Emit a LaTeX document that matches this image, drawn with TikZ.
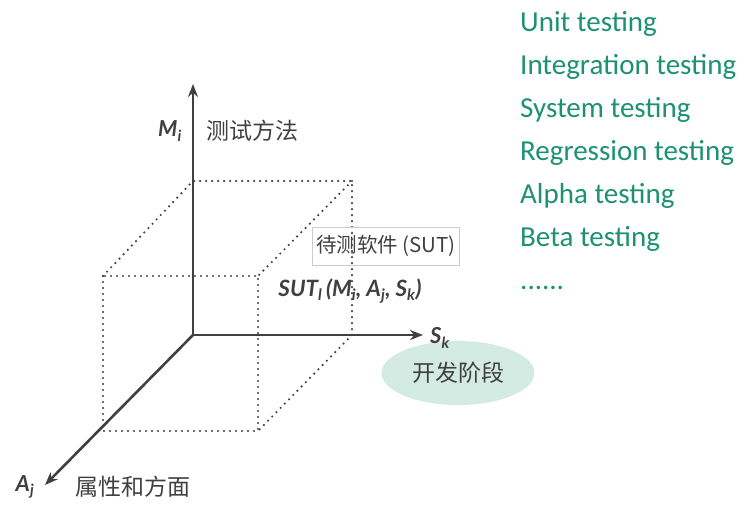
\documentclass[tikz,border=0pt]{standalone}
\usepackage{fontspec}
\setmainfont{Lato}
\newfontfamily\cjk{Noto Sans CJK SC}
\newfontfamily\listfont{Carlito}
\usetikzlibrary{arrows.meta,positioning,shapes.geometric}
\definecolor{ink}{RGB}{64,64,64}
\definecolor{leaf}{RGB}{28,146,112}
\definecolor{mist}{RGB}{211,235,227}

\newcommand{\axlab}[2]{{\bfseries\itshape #1\textsubscript{#2}}}

\begin{document}
\begin{tikzpicture}[x=1pt,y=-1pt,font=\cjk\fontsize{23}{27}\selectfont,
  axis/.style={ink,line width=2.6pt,-{Stealth[length=13pt,width=10pt]}},
  cube/.style={ink,line width=2.4pt,line cap=round,dash pattern=on 0pt off 6pt},
  lab/.style={ink,inner sep=0pt,font=\fontsize{22}{26}\selectfont},
  item/.style={leaf,anchor=base west,inner sep=0pt,font=\listfont\fontsize{29}{34}\selectfont}]
\useasboundingbox (0,0) rectangle (747,511);
% dotted box
\draw[cube] (103,276) -- (193,181) -- (352,181) -- (352,335);
\draw[cube] (352,181) -- (258,276);
\draw[cube] (352,335) -- (258,431);
\draw[cube] (103,276) rectangle (258,431);
% axes
\coordinate (O) at (193,335);
\coordinate (Mtip) at (193,84);
\coordinate (Stip) at (423,335);
\coordinate (Atip) at (45,485);
\draw[axis] (O) -- (Mtip);
\draw[axis] (O) -- (Stip);
\draw[axis] (O) -- (Atip);
% axis labels
\node[ink,ellipse,fill=mist,minimum width=153pt,minimum height=64pt,inner sep=0pt] (phase) at (458,373) {开发阶段};
\node[lab] (Mlab) at (170,131) {\axlab{M}{i}};
\node[ink] (Mtxt) at (252,131) {测试方法};
\node[lab] (Slab) at (440,338) {\axlab{S}{k}};
\node[lab] (Alab) at (25,487) {\axlab{A}{j}};
\node[ink] (Atxt) at (133,487) {属性和方面};
% software under test
\node[ink,draw=gray!40,line width=0.8pt,minimum height=38pt,inner xsep=4pt,font=\cjk\fontsize{20.5}{24}\selectfont] (sut) at (386,246) {待测软件 (SUT)};
\node[lab,font=\fontsize{22.5}{26}\selectfont] (sutl) at (350,291) {\axlab{SUT}{l}\,\bfseries\itshape(M\textsubscript{i}, A\textsubscript{j}, S\textsubscript{k})};
% kinds of testing
\foreach \t [count=\i] in {Unit testing,Integration testing,System testing,Regression testing,Alpha testing,Beta testing}
  \node[item] (kind\i) at (520,{31.5+43*(\i-1)}) {\t};
\node[item] (more) at (520,289.5) {......};
\end{tikzpicture}
\end{document}
